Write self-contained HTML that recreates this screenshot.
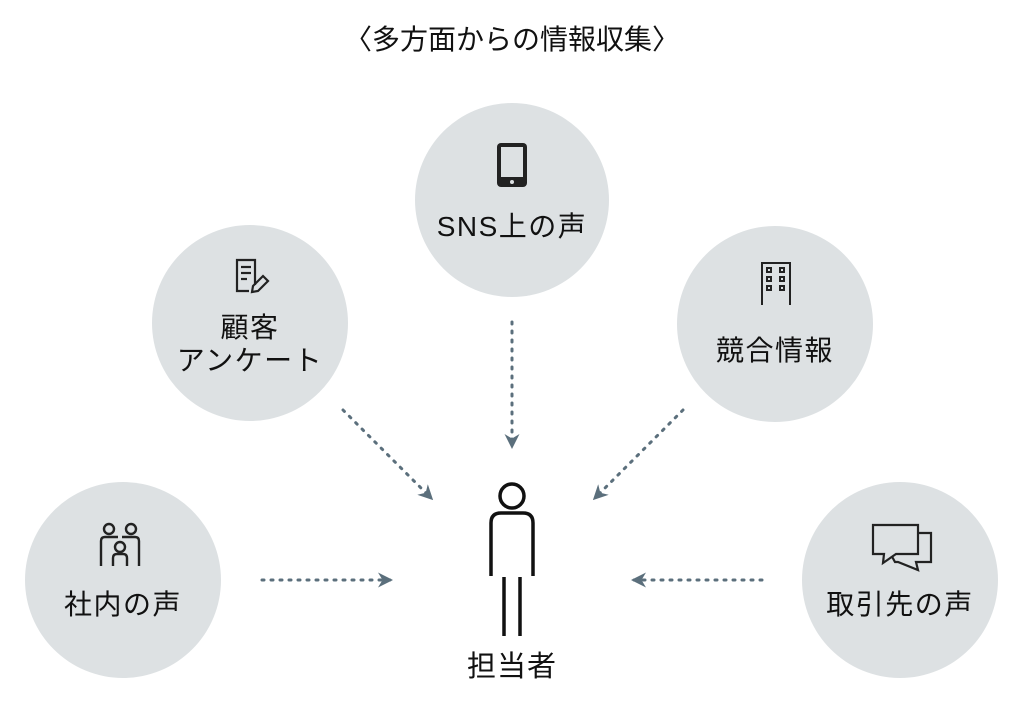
<!DOCTYPE html>
<html><head><meta charset="utf-8"><style>
html,body{margin:0;padding:0;background:#fff}
svg{display:block}
text{font-family:"Liberation Sans","Noto Sans CJK JP",sans-serif;fill:#111}
.l{font-size:28px;letter-spacing:1.5px}
</style></head><body>
<svg width="1024" height="702" viewBox="0 0 1024 702" xmlns="http://www.w3.org/2000/svg">
<defs>
<marker id="ah" viewBox="0 0 10 10" refX="8" refY="5" markerWidth="5" markerHeight="5" orient="auto"><path d="M0,0 L10,5 L0,10 L3,5 z" fill="#5b6f7c"/></marker>
</defs>
<text x="512" y="49" font-size="28" text-anchor="middle">〈多方面からの情報収集〉</text>
<g fill="#dde1e3">
<circle cx="512" cy="200" r="97"/>
<circle cx="250" cy="323" r="98"/>
<circle cx="775" cy="324" r="98"/>
<circle cx="123" cy="580" r="98"/>
<circle cx="900" cy="580" r="98"/>
</g>
<g stroke="#5b6f7c" stroke-width="3" stroke-dasharray="2 7" stroke-linecap="round" fill="none" marker-end="url(#ah)">
<line x1="512" y1="322" x2="512" y2="446"/>
<line x1="343" y1="410" x2="431" y2="498"/>
<line x1="683" y1="410" x2="595" y2="498"/>
<line x1="262" y1="580" x2="390" y2="580"/>
<line x1="762" y1="580" x2="634" y2="580"/>
</g>
<rect x="497" y="143" width="30" height="44" rx="4" fill="#222"/>
<rect x="501" y="147" width="22" height="30" fill="#dde1e3"/>
<circle cx="512" cy="182" r="2" fill="#dde1e3"/>
<text x="512" y="236" class="l" text-anchor="middle">SNS上の声</text>
<g fill="none" stroke="#222" stroke-width="2.2">
<path d="M255,285 V260 H237 V291 H249"/>
<line x1="241" y1="267" x2="251" y2="267"/><line x1="241" y1="273" x2="251" y2="273"/><line x1="241" y1="279" x2="247" y2="279"/>
<path d="M252,292 L253,286 L263,276 L268,281 L258,291 Z"/>
</g>
<text x="250" y="337" class="l" text-anchor="middle">顧客</text>
<text x="250" y="370" class="l" text-anchor="middle">アンケート</text>
<g fill="none" stroke="#222" stroke-width="2">
<path d="M762,305 V263 H790 V305"/>
<rect x="767" y="268" width="4" height="4"/><rect x="780" y="268" width="4" height="4"/>
<rect x="767" y="277" width="4" height="4"/><rect x="780" y="277" width="4" height="4"/>
<rect x="767" y="286" width="4" height="4"/><rect x="780" y="286" width="4" height="4"/>
</g>
<text x="775" y="360" class="l" text-anchor="middle">競合情報</text>
<g fill="none" stroke="#222" stroke-width="2.4">
<circle cx="109" cy="529" r="5"/><circle cx="131" cy="529" r="5"/><circle cx="120" cy="547" r="5"/>
<path d="M101,566 V541 Q101,537 105,537 H118"/>
<path d="M139,566 V541 Q139,537 135,537 H122"/>
<path d="M113,566 V558 Q113,554 117,554 H123 Q127,554 127,558 V566"/>
</g>
<text x="123" y="614" class="l" text-anchor="middle">社内の声</text>
<g fill="#dde1e3" stroke="#222" stroke-width="2.2" stroke-linejoin="miter">
<path d="M879,533 H931 V562 H916 L918,570 L898,562 H895 Z"/>
<path d="M873,525 H918 V554 H896 L883,563 L884,554 H873 Z"/>
</g>
<text x="900" y="614" class="l" text-anchor="middle">取引先の声</text>
<g fill="none" stroke="#111" stroke-width="3.5">
<circle cx="512" cy="496" r="12"/>
<path d="M491,576 V523 Q491,513 501,513 H523 Q533,513 533,523 V576"/>
<line x1="504" y1="577" x2="504" y2="636"/>
<line x1="520" y1="577" x2="520" y2="636"/>
</g>
<text x="512" y="676" font-size="29" text-anchor="middle" letter-spacing="1">担当者</text>
</svg>
</body></html>
